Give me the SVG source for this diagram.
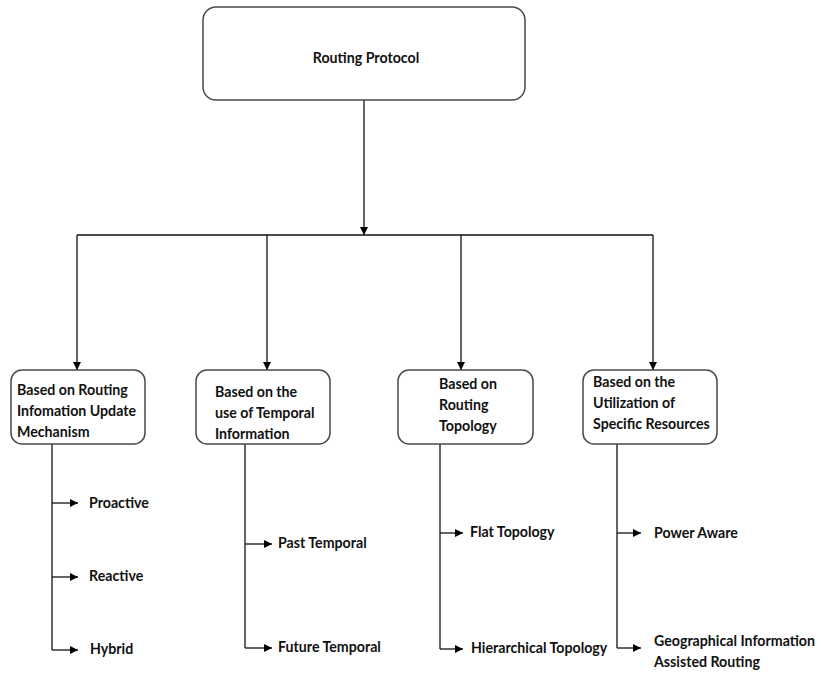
<svg xmlns="http://www.w3.org/2000/svg" width="821" height="673" viewBox="0 0 821 673">
  <defs>
    <marker id="arrow" viewBox="0 0 10 10" refX="10" refY="5" markerWidth="8" markerHeight="8" markerUnits="userSpaceOnUse" orient="auto">
      <path d="M0,0 L10,5 L0,10 z" fill="#000"/>
    </marker>
    <style>
      .box { fill: #fff; stroke: #4a4a4a; stroke-width: 1.5; }
      .line { fill: none; stroke: #111; stroke-width: 1.3; }
      .arr { fill: none; stroke: #111; stroke-width: 1.3; marker-end: url(#arrow); }
      text { font-family: Lato, "Open Sans", "Liberation Sans", sans-serif; font-weight: bold; font-size: 14.2px; fill: #111; }
    </style>
  </defs>
  <rect width="821" height="673" fill="#fff"/>

  <!-- connectors -->
  <g id="connectors">
    <path class="arr" d="M364,100 V235"/>
    <path class="line" d="M77,235 H653"/>
    <path class="arr" d="M77,235 V370"/>
    <path class="arr" d="M267,235 V370"/>
    <path class="arr" d="M461,235 V370"/>
    <path class="arr" d="M653,235 V370"/>

    <path class="line" d="M52,444 V650"/>
    <path class="arr" d="M52,503 H78"/>
    <path class="arr" d="M52,577 H78"/>
    <path class="arr" d="M52,650 H78"/>

    <path class="line" d="M245,444 V648"/>
    <path class="arr" d="M245,544 H272"/>
    <path class="arr" d="M245,648 H272"/>

    <path class="line" d="M440,444 V649"/>
    <path class="arr" d="M440,533 H463"/>
    <path class="arr" d="M440,649 H463"/>

    <path class="line" d="M617,444 V648"/>
    <path class="arr" d="M617,533 H641"/>
    <path class="arr" d="M617,648 H641"/>
  </g>

  <g id="root">
    <rect class="box" x="203" y="7" width="322" height="93" rx="13"/>
    <text x="366" y="63" text-anchor="middle">Routing Protocol</text>
  </g>

  <g id="update-mechanism">
    <rect class="box" x="11" y="370" width="134" height="74" rx="11"/>
    <text x="17" y="395">Based on Routing</text>
    <text x="17" y="416">Infomation Update</text>
    <text x="17" y="437">Mechanism</text>
  </g>

  <g id="temporal">
    <rect class="box" x="196" y="370" width="134" height="74" rx="11"/>
    <text x="215" y="397">Based on the</text>
    <text x="215" y="418">use of Temporal</text>
    <text x="215" y="439">Information</text>
  </g>

  <g id="topology">
    <rect class="box" x="398" y="370" width="135" height="74" rx="11"/>
    <text x="439" y="389">Based on</text>
    <text x="439" y="410">Routing</text>
    <text x="439" y="431">Topology</text>
  </g>

  <g id="resources">
    <rect class="box" x="583" y="370" width="134" height="74" rx="11"/>
    <text x="593" y="387">Based on the</text>
    <text x="593" y="408">Utilization of</text>
    <text x="593" y="429">Specific Resources</text>
  </g>

  <g id="proactive"><text x="89" y="508">Proactive</text></g>
  <g id="reactive"><text x="89" y="581">Reactive</text></g>
  <g id="hybrid"><text x="90" y="654">Hybrid</text></g>

  <g id="past-temporal"><text x="278" y="548">Past Temporal</text></g>
  <g id="future-temporal"><text x="278" y="652">Future Temporal</text></g>

  <g id="flat-topology"><text x="470" y="537">Flat Topology</text></g>
  <g id="hierarchical-topology"><text x="471" y="653">Hierarchical Topology</text></g>

  <g id="power-aware"><text x="654" y="538">Power Aware</text></g>
  <g id="geographical">
    <text x="654" y="646">Geographical Information</text>
    <text x="654" y="667">Assisted Routing</text>
  </g>
</svg>
